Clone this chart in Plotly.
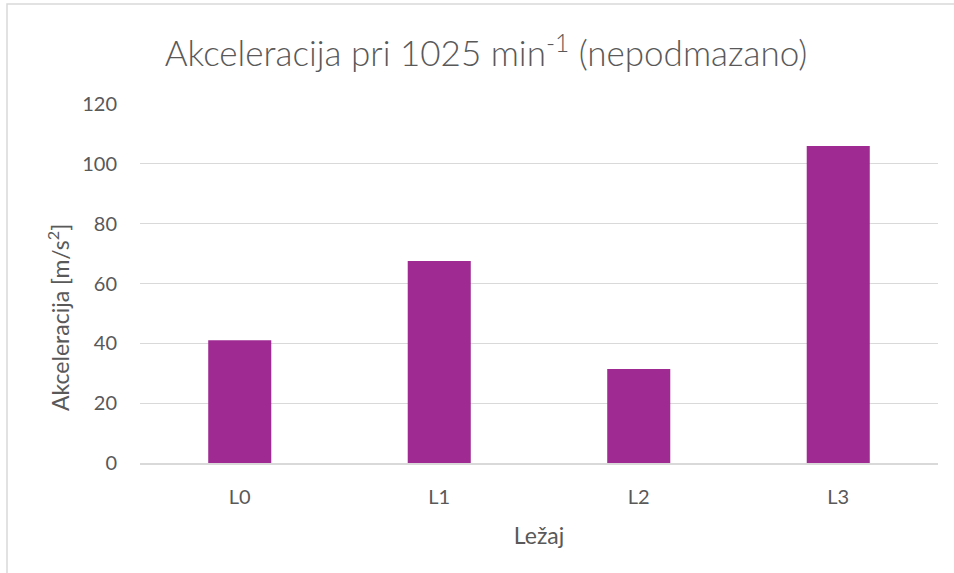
import plotly.graph_objects as go

categories = ["L0", "L1", "L2", "L3"]
values = [41.0, 67.5, 31.4, 106.0]
y_ticks = [0, 20, 40, 60, 80, 100, 120]

title_text = "Akceleracija pri 1025 min<sup>-1</sup> (nepodmazano)"
x_title = "Ležaj"
y_title = "Akceleracija [m/s<sup>2</sup>]"

font_family = "Lato, Open Sans, sans-serif"
bar_color = "#9F2A92"
text_color = "#595959"
grid_color = "#D9D9D9"

W, H = 954, 573
L, R, T, B = 140, 16, 104, 110
PW, PH = W - L - R, H - T - B

fig = go.Figure(go.Bar(x=categories, y=values, marker=dict(color=bar_color, line=dict(width=0))))

fig.update_layout(
    width=W, height=H,
    margin=dict(l=L, r=R, t=T, b=B),
    paper_bgcolor="white", plot_bgcolor="white",
    bargap=0.684,
    showlegend=False,
    font=dict(family=font_family, color=text_color),
    title=dict(text=title_text, x=486 / W, xanchor="center",
               y=1 - 54 / H, yanchor="middle",
               font=dict(size=35, color=text_color, family=font_family, weight=300)),
    shapes=[dict(type="rect", xref="paper", yref="paper",
                 x0=(7 - L) / PW, x1=1.2, y0=-0.6, y1=(H - B - 4) / PH,
                 line=dict(color=grid_color, width=1.5), fillcolor="rgba(0,0,0,0)", layer="below")],
    annotations=[dict(text=y_title, xref="paper", yref="paper",
                      x=(58 - L) / PW, y=(H - B - 318) / PH, xanchor="center", yanchor="middle",
                      textangle=-90, showarrow=False,
                      font=dict(size=23, color=text_color, family=font_family))],
)
fig.update_xaxes(showgrid=False, showline=True, linecolor=grid_color, linewidth=1.5,
                 tickfont=dict(size=20, color=text_color), ticklabelstandoff=15,
                 title=dict(text=x_title, font=dict(size=23, color=text_color), standoff=21))
fig.update_yaxes(range=[0, 120], tickvals=y_ticks, showgrid=True, gridcolor=grid_color, gridwidth=1.3,
                 zeroline=False, showline=False,
                 tickfont=dict(size=20, color=text_color), ticklabelstandoff=22)

fig.write_html("out.html", config={"displayModeBar": False},
               post_script="document.body.style.margin='0px';")
